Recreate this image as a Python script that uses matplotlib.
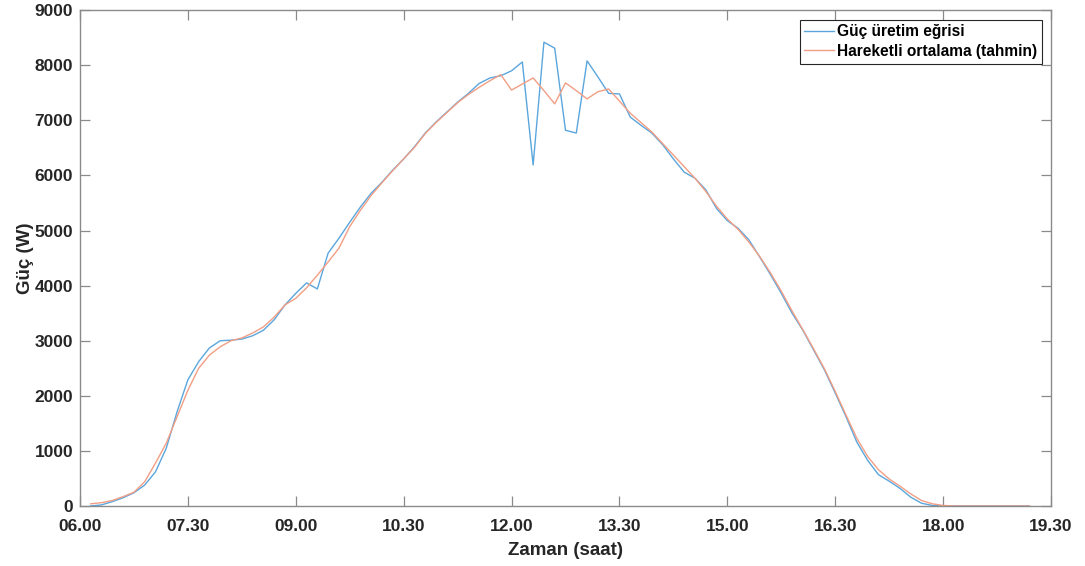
import numpy as np
import matplotlib
matplotlib.use("Agg")
import matplotlib.pyplot as plt

# ölçüm indeksleri (her tik 10 örnek)
sample_idx = list(range(1, 89))

# Güç üretim eğrisi (W)
uretim = [
    0, 20, 80, 150, 240, 380, 620, 1050, 1710, 2290,
    2620, 2870, 3000, 3010, 3030, 3090, 3190, 3380, 3650, 3860,
    4050, 3940, 4590, 4860, 5150, 5430, 5680, 5880, 6100, 6300,
    6520, 6770, 6970, 7150, 7330, 7490, 7670, 7770, 7810, 7900,
    8060, 6190, 8420, 8310, 6820, 6770, 8080, 7790, 7490, 7480,
    7060, 6910, 6770, 6560, 6300, 6060, 5950, 5740, 5400, 5180,
    5040, 4830, 4520, 4200, 3860, 3500, 3190, 2830, 2470, 2050,
    1620, 1160, 830, 570, 450, 320, 160, 50, 10, 0,
    0, 0, 0, 0, 0, 0, 0, 0,
]

# Hareketli ortalama (tahmin)
tahmin = [
    40, 60, 100, 170, 250, 440, 780, 1140, 1620, 2100,
    2500, 2740, 2890, 3000, 3050, 3140, 3250, 3430, 3650, 3770,
    3960, 4190, 4430, 4680, 5070, 5370, 5640, 5870, 6090, 6300,
    6510, 6760, 6960, 7140, 7320, 7470, 7600, 7720, 7830, 7550,
    7660, 7770, 7540, 7300, 7680, 7540, 7390, 7520, 7570, 7350,
    7130, 6960, 6790, 6580, 6370, 6160, 5950, 5710, 5440, 5210,
    5020, 4790, 4530, 4230, 3900, 3540, 3200, 2850, 2490, 2080,
    1650, 1230, 900, 660, 490, 360, 220, 100, 40, 10,
    0, 0, 0, 0, 0, 0, 0, 0,
]

xtick_pos = list(range(0, 91, 10))
xtick_labels = ["06.00", "07.30", "09.00", "10.30", "12.00",
                "13.30", "15.00", "16.30", "18.00", "19.30"]
ytick_pos = list(range(0, 9001, 1000))

plt.rcParams['font.family'] = ['Liberation Sans', 'DejaVu Sans']

fig = plt.figure(figsize=(10.85, 5.66), dpi=100)
ax = fig.add_axes([0.0737, 0.106, 0.895, 0.876])

ax.plot(sample_idx, uretim, color='#5aa6dd', lw=1.0, label='Güç üretim eğrisi')
ax.plot(sample_idx, tahmin, color='#f29e84', lw=1.0, label='Hareketli ortalama (tahmin)')

ax.set_xlim(0, 90)
ax.set_ylim(0, 9000)
ax.set_xticks(xtick_pos)
ax.set_xticklabels(xtick_labels)
ax.set_yticks(ytick_pos)

for s in ax.spines.values():
    s.set_color('#8a8a8a')
    s.set_linewidth(1.0)
ax.tick_params(direction='in', length=7, width=0.9, color='#8a8a8a',
               top=True, right=True, labelsize=12.5, labelcolor='#262626')
ax.tick_params(axis='x', pad=9.5)
ax.tick_params(axis='y', pad=5)
for lbl in ax.get_xticklabels() + ax.get_yticklabels():
    lbl.set_fontweight('bold')

ax.set_xlabel('Zaman (saat)', fontsize=13.5, fontweight='bold', color='#262626')
ax.set_ylabel('Güç (W)', fontsize=13.5, fontweight='bold', color='#262626')
ax.xaxis.set_label_coords(0.5, -0.073)
ax.yaxis.set_label_coords(-0.047, 0.5)

leg = ax.legend(loc='upper right', prop={'weight': 'bold', 'size': 11.2},
                fancybox=False, framealpha=1, edgecolor='#262626',
                borderaxespad=0.6, handlelength=1.9, borderpad=0.3,
                labelspacing=0.3, handletextpad=0.2)
leg.get_frame().set_linewidth(0.8)

fig.savefig('out.png', dpi=100)
